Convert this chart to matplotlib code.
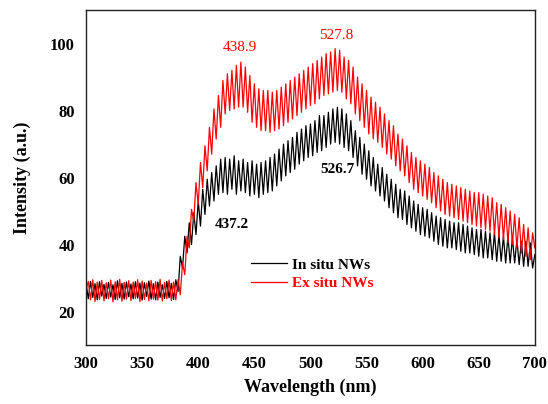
import matplotlib
matplotlib.use("Agg")
import matplotlib.pyplot as plt
import numpy as np

# wavelength grid (nm), one reading every 2 nm
wavelength = np.arange(300, 701, 2)

# In situ NWs (black)
in_situ = [
    28.5, 23.8, 29.0, 24.2, 28.3, 23.5, 28.9, 24.6, 28.1, 23.9,
    28.7, 24.3, 28.0, 23.6, 29.2, 24.1, 28.4, 23.7, 28.8, 24.4,
    28.2, 23.8, 28.9, 24.0, 28.5, 23.4, 28.6, 24.5, 29.1, 23.7,
    28.3, 23.5, 28.8, 24.2, 28.0, 23.9, 29.0, 24.1, 28.4, 23.6,
    29.5, 26.0, 36.5, 33.0, 42.5, 37.5, 46.5, 40.0, 49.5, 43.0,
    53.0, 45.5, 56.5, 49.0, 59.5, 51.5, 61.5, 53.0, 63.5, 55.0,
    65.5, 55.5, 66.0, 55.0, 65.5, 56.5, 66.5, 55.0, 65.0, 56.0,
    65.5, 55.5, 64.5, 54.5, 65.0, 55.0, 64.0, 54.0, 64.5, 55.0,
    65.0, 55.5, 66.0, 56.0, 67.0, 57.5, 68.5, 59.0, 70.0, 60.5,
    71.0, 61.5, 72.0, 62.5, 73.5, 64.0, 74.5, 65.0, 75.5, 66.0,
    76.0, 66.5, 77.0, 67.5, 78.5, 68.0, 78.5, 69.0, 79.5, 70.0,
    80.5, 70.5, 81.0, 70.0, 80.5, 69.0, 79.0, 68.0, 77.0, 66.0,
    74.0, 63.5, 72.0, 61.0, 70.0, 59.5, 68.0, 57.5, 66.0, 56.0,
    64.0, 54.5, 63.0, 53.0, 61.0, 51.0, 59.5, 49.5, 58.0, 48.0,
    56.5, 47.5, 56.0, 46.0, 54.5, 45.0, 53.0, 44.0, 52.0, 43.0,
    51.0, 42.5, 50.5, 42.0, 49.5, 41.0, 48.5, 40.0, 48.0, 39.5,
    47.5, 39.0, 47.0, 39.0, 46.5, 38.5, 46.5, 38.0, 46.0, 37.5,
    45.5, 37.5, 45.0, 37.0, 44.5, 36.5, 44.5, 36.0, 44.0, 36.0,
    43.5, 35.5, 43.5, 35.0, 43.0, 35.0, 42.5, 34.5, 42.5, 34.5,
    42.0, 34.5, 41.5, 34.0, 41.0, 33.5, 41.0, 33.5, 40.5, 33.0,
    37.0,
]

# Ex situ NWs (red)
ex_situ = [
    26.5, 29.0, 23.5, 29.5, 23.0, 28.8, 23.6, 29.3, 23.2, 28.6,
    23.8, 29.4, 22.9, 28.9, 23.5, 29.6, 23.1, 28.7, 23.7, 29.2,
    23.3, 28.8, 23.9, 29.5, 23.0, 29.1, 23.6, 28.5, 23.2, 29.3,
    23.7, 28.9, 23.4, 29.6, 23.1, 28.7, 23.8, 29.4, 23.3, 28.8,
    23.5, 29.5, 25.0, 34.5, 31.0, 42.5, 39.0, 50.5, 47.0, 58.5,
    52.0, 64.5, 57.0, 69.5, 62.0, 75.0, 67.0, 80.5, 71.5, 84.5,
    75.0, 89.0, 79.0, 91.0, 80.0, 92.0, 80.5, 93.5, 81.0, 94.5,
    81.0, 93.0, 79.5, 90.5, 76.5, 88.0, 75.0, 86.5, 74.0, 86.0,
    74.0, 86.0, 73.5, 85.5, 74.0, 86.0, 74.5, 87.0, 75.5, 88.0,
    76.5, 89.0, 77.5, 90.0, 78.5, 91.0, 79.5, 92.0, 80.5, 93.0,
    81.5, 94.0, 82.0, 95.0, 83.5, 96.0, 84.5, 97.0, 85.0, 97.5,
    85.5, 98.5, 86.0, 98.0, 85.5, 96.0, 83.5, 95.0, 82.0, 93.0,
    79.0, 90.0, 77.0, 88.0, 75.0, 86.0, 73.0, 84.0, 71.5, 82.5,
    70.5, 81.0, 69.0, 79.0, 67.0, 77.0, 65.5, 75.5, 63.5, 73.0,
    62.0, 71.5, 60.5, 69.5, 58.5, 67.5, 56.5, 66.0, 55.5, 65.0,
    54.5, 64.0, 53.5, 63.0, 52.5, 61.5, 51.0, 60.5, 50.0, 59.5,
    49.0, 58.5, 48.5, 58.0, 48.0, 57.5, 47.5, 57.0, 47.0, 56.5,
    46.5, 56.0, 46.0, 55.5, 45.5, 55.5, 45.0, 55.0, 44.5, 54.5,
    44.0, 54.0, 43.0, 52.5, 42.0, 52.0, 41.5, 51.0, 40.5, 50.0,
    40.0, 49.0, 39.0, 48.0, 37.5, 46.0, 36.5, 45.0, 35.5, 43.5,
    39.0,
]

x_ticks = [300, 350, 400, 450, 500, 550, 600, 650, 700]
y_ticks = [20, 40, 60, 80, 100]

# peak labels: (text, x, y, colour)
peak_labels = [
    ("438.9", 437.5, 98.8, "red"),
    ("527.8", 523, 102.4, "red"),
    ("526.7", 524.5, 62.4, "black"),
    ("437.2", 430, 46.0, "black"),
]

plt.rcParams['font.family'] = ['Liberation Serif', 'DejaVu Serif']

fig = plt.figure(figsize=(5.48, 4.04), dpi=100)
ax = fig.add_axes([0.157, 0.146, 0.819, 0.829])

ax.plot(wavelength, in_situ, color='black', lw=0.9, label='In situ NWs')
ax.plot(wavelength, ex_situ, color='red', lw=0.9, label='Ex situ NWs')

for txt, px, py, col in peak_labels:
    ax.text(px, py, txt, color=col, fontsize=11, ha='center', va='center',
            fontweight='bold' if col == 'black' else 'normal')

ax.set_xlim(300, 700)
ax.set_ylim(10, 110)
ax.set_xticks(x_ticks)
ax.set_yticks(y_ticks)
ax.tick_params(length=0, labelsize=12, pad=8)
for lab in ax.get_xticklabels() + ax.get_yticklabels():
    lab.set_fontweight('bold')
for sp in ax.spines.values():
    sp.set_linewidth(1.0)
    sp.set_color('#222222')

ax.set_xlabel('Wavelength (nm)', fontsize=13, fontweight='bold', labelpad=5)
ax.set_ylabel('Intensity (a.u.)', fontsize=13, fontweight='bold', labelpad=14)

leg = ax.legend(loc='center left', bbox_to_anchor=(0.35, 0.212), frameon=False,
                handlelength=2.4, handletextpad=0.3, borderpad=0, labelspacing=0.3,
                prop={'weight': 'bold', 'size': 11})
for t, col in zip(leg.get_texts(), ['black', 'red']):
    t.set_color(col)

fig.savefig('out.png', dpi=100)
